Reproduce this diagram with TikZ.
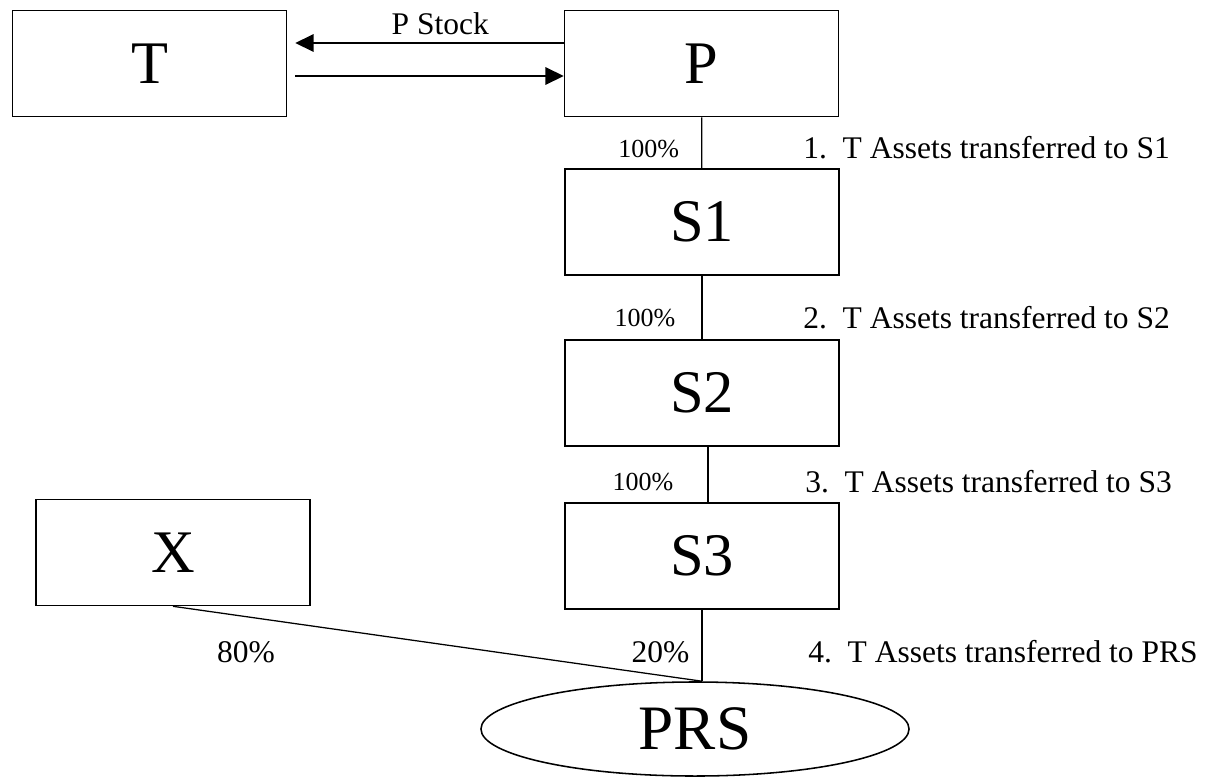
\documentclass[tikz,border=0pt]{standalone}
\usepackage{fontspec}
\setmainfont{Liberation Serif}
\usetikzlibrary{arrows.meta,shapes.geometric}
\begin{document}
\begin{tikzpicture}[x=0.025cm,y=-0.025cm,>={Triangle[length=13pt,width=12.5pt]},
	box/.style={draw,line width=1.1pt,minimum width=6.85cm,minimum height=2.65cm,inner sep=0pt,font=\fontsize{43}{43}\selectfont},
	pct/.style={inner sep=0pt,font=\fontsize{18.5}{20}\selectfont},
	note/.style={inner sep=0pt,font=\fontsize{22.4}{24}\selectfont}]
	%%Khung hình
	\useasboundingbox (0,0) rectangle (1207,777);
	%%Các công ty
	\node[box] (T) at (149.5,63.5) {T};
	\node[box] (P) at (701.5,63.5) {P};
	\node[box] (S1) at (702,222) {S1};
	\node[box] (S2) at (702,393) {S2};
	\node[box] (S3) at (702,556) {S3};
	\node[box] (X) at (173,552.5) {X};
	\node[draw,ellipse,line width=1.1pt,minimum width=10.7cm,minimum height=2.35cm,inner sep=0pt,font=\fontsize{45}{45}\selectfont] (PRS) at (695,729) {PRS};
	\coordinate (J) at (S3.south |- PRS.north);
	%%Trao đổi cổ phần
	\draw[<-,line width=0.9pt] ([shift={(8,-20.5)}]T.east) -- ([shift={(0,-20.5)}]P.west) node[note,pos=0.54,above=5.4pt] {P Stock};
	\draw[->,line width=0.9pt] ([shift={(8,12.5)}]T.east) -- ([shift={(0,12.5)}]P.west);
	%%Sở hữu
	\draw[line width=0.9pt] (P) -- (S1) node[pct,pos=0.62,left=0.55cm] {100\%};
	\draw[line width=0.9pt] (S1) -- (S2) node[pct,pos=0.66,left=0.65cm] {100\%};
	\draw[line width=0.9pt] ([shift={(6,0)}]S2.south) -- ([shift={(6,0)}]S3.north) node[pct,pos=0.63,left=0.85cm] {100\%};
	\draw[line width=0.9pt] (S3.south) -- (J) node[note,pos=0.59,left=0.3cm] {20\%};
	\draw[line width=0.9pt] (X.south) -- (J);
	\node[note] (l80) at (246,652) {80\%};
	%%Các bước
	\node[note,anchor=west] (n1) at (803,148) {1.\ \ T Assets transferred to S1};
	\node[note,anchor=west] (n2) at (803,318) {2.\ \ T Assets transferred to S2};
	\node[note,anchor=west] (n3) at (805,482) {3.\ \ T Assets transferred to S3};
	\node[note,anchor=west] (n4) at (808,652) {4.\ \ T Assets transferred to PRS};
\end{tikzpicture}
\end{document}
